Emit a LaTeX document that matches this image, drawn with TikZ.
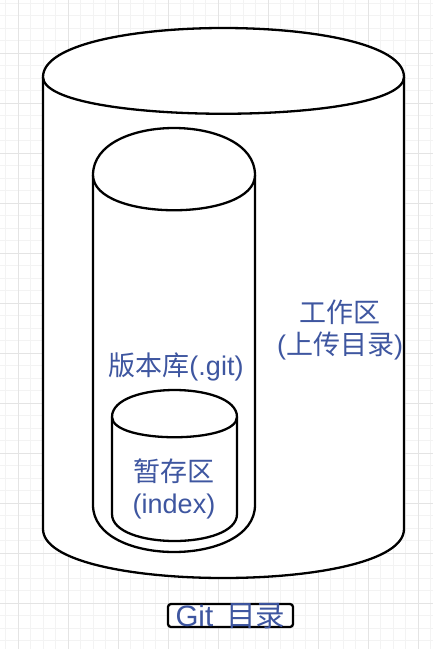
\documentclass[tikz,border=0pt]{standalone}
\usepackage{fontspec}
\setmainfont{Liberation Sans}
\newfontfamily\cjk{Noto Sans CJK SC}

\definecolor{gitblue}{RGB}{62,86,160}
\definecolor{gridminor}{RGB}{243,243,243}
\definecolor{gridmajor}{RGB}{228,228,228}

% x, y, width, height, cap depth
\newcommand{\gitcylinder}[5]{%
	\draw[cyl] (#1,#2+#5) .. controls (#1,#2-#5/3) and (#1+#3,#2-#5/3) .. (#1+#3,#2+#5)
		-- (#1+#3,#2+#4-#5) .. controls (#1+#3,#2+#4+#5/3) and (#1,#2+#4+#5/3) .. (#1,#2+#4-#5) -- cycle;
	\draw[cyl] (#1,#2+#5) .. controls (#1,#2+2*#5) and (#1+#3,#2+2*#5) .. (#1+#3,#2+#5);
}

\begin{document}
\begin{tikzpicture}[x=1pt,y=-1pt,
	cyl/.style={line width=2.3pt,fill=white},
	lbl/.style={text=gitblue,align=center,font=\fontsize{27}{32}\selectfont},
	gitbox/.style={draw,line width=2.3pt,rounded corners=3pt,fill=white,text=gitblue,
		inner sep=0pt,minimum width=125pt,minimum height=23pt,text height=22pt,text depth=0pt,
		font=\fontsize{29.5}{34}\selectfont}]
	\useasboundingbox (0,0) rectangle (433,649);
	\fill[white] (0,0) rectangle (433,649);

	% background grid
	\foreach \gx in {5.5,18,...,433}
		\draw[gridminor,line width=0.6pt] (\gx,0) -- (\gx,649);
	\foreach \gy in {3,15.5,...,649}
		\draw[gridminor,line width=0.6pt] (0,\gy) -- (433,\gy);
	\foreach \gx in {18,68,...,433}
		\draw[gridmajor,line width=0.6pt] (\gx,0) -- (\gx,649);
	\foreach \gy in {53,103,...,649}
		\draw[gridmajor,line width=0.6pt] (0,\gy) -- (433,\gy);

	\gitcylinder{43}{28}{361}{550}{49}
	\gitcylinder{93}{128}{162}{424}{47}
	\gitcylinder{112}{390}{125}{151}{27}

	\node[lbl] (workdir) at (340,330) {{\cjk 工作区}\\({\cjk 上传目录})};
	\node[lbl] (repo) at (176,367) {{\cjk 版本库}(.git)};
	\node[lbl] (index) at (174,489) {{\cjk 暂存区}\\(index)};

	\node[gitbox] (gitdir) at (230.5,615.5) {Git\hspace{0.45em}{\cjk 目录}};
\end{tikzpicture}
\end{document}
